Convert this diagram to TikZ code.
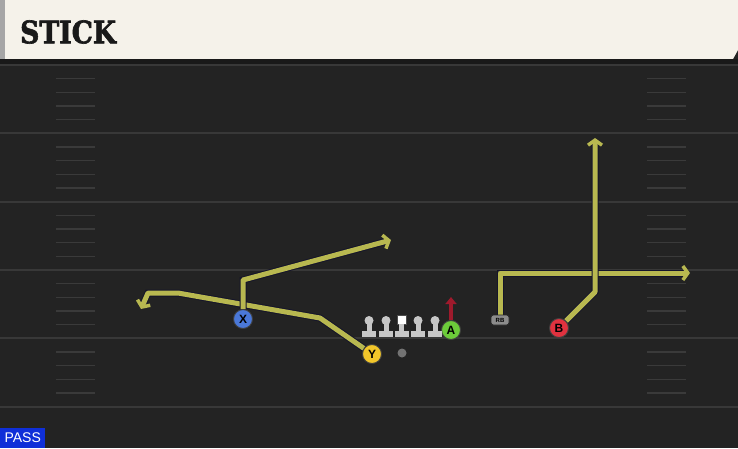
\documentclass[tikz,border=0pt]{standalone}
\usepackage{fontspec}
\setsansfont{Liberation Sans}
\newfontfamily\titlefont{DejaVu Serif}[FakeBold=2]
\usetikzlibrary{arrows.meta, positioning}
\pgfdeclarelayer{field}
\pgfdeclarelayer{routes}
\pgfsetlayers{field,routes,main}
\definecolor{fieldcol}{HTML}{232323}
\definecolor{yardcol}{HTML}{383838}
\definecolor{hashcol}{HTML}{3A3A3A}
\definecolor{headercol}{HTML}{F5F2EA}
\definecolor{routecol}{RGB}{184,184,80}
\definecolor{edgecol}{HTML}{15152A}
\definecolor{xcol}{HTML}{4A78D8}
\definecolor{ycol}{HTML}{F2C62A}
\definecolor{acol}{HTML}{6CCB3A}
\definecolor{bcol}{HTML}{E0323F}
\definecolor{blockcol}{HTML}{9E1A2C}
\definecolor{passcol}{HTML}{0F2FD8}
\tikzset{
  player/.style={circle, draw=black!75, line width=0.9pt, minimum size=19pt, inner sep=0pt,
    font=\sffamily\bfseries\fontsize{12}{12}\selectfont},
  route/.style={draw=routecol, line width=5pt, line join=round,
    -{Straight Barb[length=5pt,width=14pt,line width=3.5pt]},
    preaction={draw=edgecol, line width=7pt}},
  lineman/.style={fill=black!22},
}

\begin{document}
\begin{tikzpicture}[x=1pt,y=-1pt]
  \useasboundingbox (0,0) rectangle (738,448);

  \begin{pgfonlayer}{field}
  \fill[fieldcol] (0,0) rectangle (738,448);
  % header
  \fill[headercol] (5,0) -- (738,0) -- (738,50) -- (733,59) -- (5,59) -- cycle;
  \fill[black!35] (0,0) rectangle (5,59);
  \fill[black!90] (0,59) rectangle (738,64);
  % yard lines and hashes
  \foreach \k in {0,...,5}
    \draw[yardcol, line width=1.8pt] (0,65+68.33*\k) -- (738,65+68.33*\k);
  \foreach \k in {1,2,3,4,6,7,8,9,11,12,13,14,16,17,18,19,21,22,23,24} {
    \draw[hashcol, line width=1.4pt] (56,65+13.67*\k) -- (95,65+13.67*\k);
    \draw[hashcol, line width=1.4pt] (647,65+13.67*\k) -- (686,65+13.67*\k);
  }
  \end{pgfonlayer}

  \node[anchor=west, inner sep=0pt, text=black!90, xscale=0.86] (title) at (20,32)
    {\titlefont\bfseries\fontsize{31}{31}\selectfont STICK};

  % players
  \node[player, fill=xcol] (X) at (243,319) {X};
  \node[player, fill=ycol] (Y) at (372,354) {Y};
  \node[player, fill=acol] (A) at (451,330) {A};
  \node[player, fill=bcol] (B) at (559,328) {B};
  \node[rounded corners=2.5pt, fill=black!45, draw=black!85, line width=0.7pt,
    minimum width=18pt, minimum height=10pt, inner sep=0pt,
    font=\sffamily\bfseries\fontsize{6}{6}\selectfont] (RB) at (500,320) {RB};
  \node[circle, fill=black!55, minimum size=9pt, inner sep=0pt] (ball) at (402,353) {};

  % route points
  \coordinate (x1) at (243,280);
  \coordinate (x2) at (391,240);
  \coordinate (y1) at (320,318);
  \coordinate (y2) at (178,293);
  \coordinate (y3) at (148,293);
  \coordinate (y4) at (141,309);
  \coordinate (b1) at (595,292);
  \coordinate (b2) at (595,138);
  \coordinate (r1) at (500,273);
  \coordinate (r2) at (690,273);
  \coordinate (a1) at (451,297);

  \begin{pgfonlayer}{routes}
  \draw[route] (Y) -- (y1) -- (y2) -- (y3) -- (y4);
  \draw[route] (X) -- (x1) -- (x2);
  \draw[route] (RB) -- (r1) -- (r2);
  \draw[route] (B) -- (b1) -- (b2);
  \draw[blockcol, line width=3.4pt, -{Triangle[length=7pt,width=11pt]}] (A) -- (a1);
  \end{pgfonlayer}

  % line
  \foreach \x in {369,386,418,435} {
    \fill[lineman] (\x,320.5) circle (4.5);
    \fill[lineman] (\x-2.5,324) rectangle (\x+2.5,331);
    \fill[lineman] (\x-7,331) rectangle (\x+7,337);
  }
  \filldraw[fill=white, draw=black!70, line width=0.8pt] (397,315) rectangle (406,324);
  \fill[lineman] (399,324) rectangle (404,331);
  \fill[lineman] (394.5,331) rectangle (408.5,337);

  % tag
  \node[fill=passcol, text=white, anchor=south west, minimum width=45pt, minimum height=20pt,
    inner sep=0pt, font=\sffamily\fontsize{14}{14}\selectfont] (pass) at (0,448) {PASS};
\end{tikzpicture}
\end{document}
